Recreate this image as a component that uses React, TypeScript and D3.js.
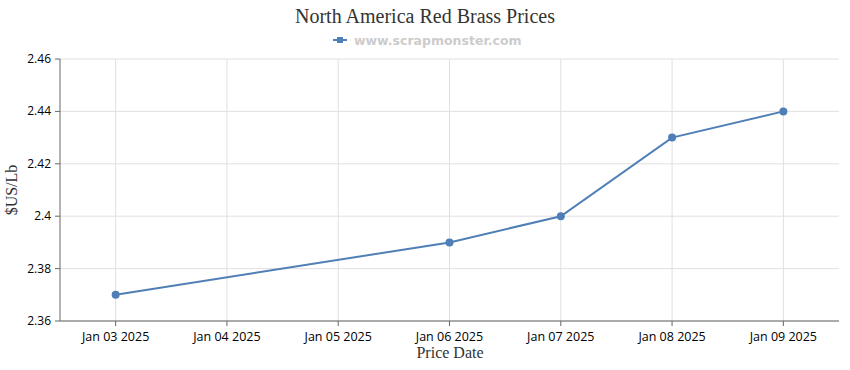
import React from "react";
import * as d3 from "d3";

const dates = ["2025-01-03", "2025-01-06", "2025-01-07", "2025-01-08", "2025-01-09"];
const prices = [2.37, 2.39, 2.40, 2.43, 2.44];
const yTicks = [2.36, 2.38, 2.4, 2.42, 2.44, 2.46];
const xTickDates = ["2025-01-03", "2025-01-04", "2025-01-05", "2025-01-06", "2025-01-07", "2025-01-08", "2025-01-09"];

const W = 850, H = 370;
const M = { left: 60, right: 11, top: 59, bottom: 49 };
const parse = d3.utcParse("%Y-%m-%d");
const fmt = d3.utcFormat("%b %d %Y");
const DAY = 86400000;

export default function App() {
  const d0 = parse(xTickDates[0])!.getTime() - DAY / 2;
  const d1 = parse(xTickDates[xTickDates.length - 1])!.getTime() + DAY / 2;
  const x = d3.scaleUtc().domain([new Date(d0), new Date(d1)]).range([M.left, W - M.right]);
  const y = d3.scaleLinear().domain([2.36, 2.46]).range([H - M.bottom, M.top]);
  const pts = dates.map((d, i) => ({ x: x(parse(d)!), y: y(prices[i]) }));
  const line = d3.line<{ x: number; y: number }>().x((d) => d.x).y((d) => d.y);
  const color = "#4f7fb6";
  const grid = "#e0e0e0";
  const axis = "#666";
  const tickFont = "'Open Sans', 'DejaVu Sans', sans-serif";
  return (
    <svg width={W} height={H} style={{ position: "absolute", left: 0, top: 0, background: "#fff" }}>
      <text x={425} y={23} textAnchor="middle" fontFamily="'Liberation Serif', serif" fontSize={20} fill="#333">
        North America Red Brass Prices
      </text>
      <line x1={333} x2={347} y1={40} y2={40} stroke={color} strokeWidth={2} />
      <rect x={337} y={37} width={6} height={6} fill={color} />
      <text x={354} y={45} fontFamily="'DejaVu Sans', sans-serif" fontWeight="bold" fontSize={12.5} fill="#ccc">
        www.scrapmonster.com
      </text>
      {yTicks.map((t) => (
        <g key={"y" + t}>
          <line x1={M.left} x2={W - M.right} y1={y(t)} y2={y(t)} stroke={grid} />
          <line x1={M.left - 5} x2={M.left} y1={y(t)} y2={y(t)} stroke={axis} />
          <text x={M.left - 9} y={y(t) + 4} textAnchor="end" fontFamily={tickFont} fontSize={12} fill="#000">
            {String(t)}
          </text>
        </g>
      ))}
      {xTickDates.map((d) => {
        const xv = x(parse(d)!);
        return (
          <g key={d}>
            <line x1={xv} x2={xv} y1={M.top} y2={H - M.bottom} stroke={grid} />
            <line x1={xv} x2={xv} y1={H - M.bottom} y2={H - M.bottom + 5} stroke={axis} />
            <text x={xv} y={H - M.bottom + 20} textAnchor="middle" fontFamily={tickFont} fontSize={12.5} fill="#000">
              {fmt(parse(d)!)}
            </text>
          </g>
        );
      })}
      <line x1={M.left} x2={M.left} y1={M.top} y2={H - M.bottom} stroke={axis} />
      <line x1={M.left} x2={W - M.right} y1={H - M.bottom} y2={H - M.bottom} stroke={axis} />
      <text x={450} y={358} textAnchor="middle" fontFamily="'Liberation Serif', serif" fontSize={16} fill="#333">
        Price Date
      </text>
      <text transform={`translate(17,${(M.top + H - M.bottom) / 2}) rotate(-90)`} textAnchor="middle" fontFamily="'Liberation Serif', serif" fontSize={16} fill="#333">
        $US/Lb
      </text>
      <path d={line(pts) || ""} fill="none" stroke={color} strokeWidth={2} />
      {pts.map((p, i) => (
        <circle key={i} cx={p.x} cy={p.y} r={4} fill={color} />
      ))}
    </svg>
  );
}
